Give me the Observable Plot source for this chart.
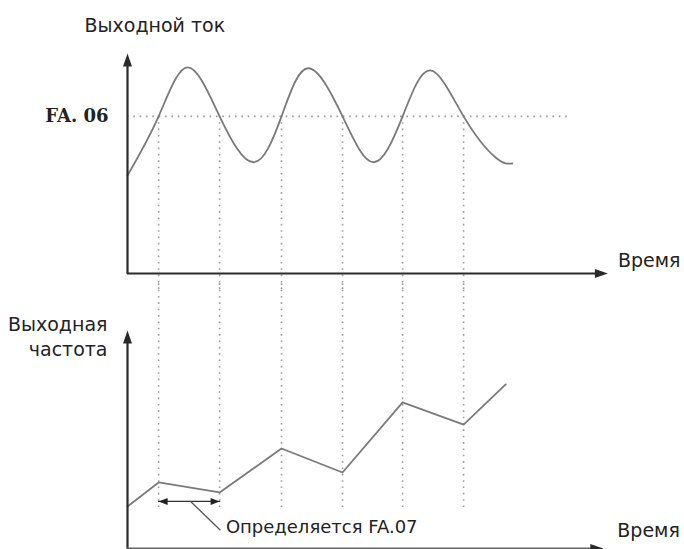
<!DOCTYPE html>
<html><head><meta charset="utf-8">
<script src="https://cdn.jsdelivr.net/npm/d3@7"></script>
<script src="https://cdn.jsdelivr.net/npm/@observablehq/plot@0.6"></script>
<style>
body{margin:0;background:#fff}
#chart{width:684px}
#chart svg{display:block;overflow:visible}
</style>
</head><body><div id="chart"></div>
<script>
// ---- data (time in half-period units, values in arbitrary units) ----
const crossings = [1.02, 3.02, 5.05, 7.05, 9.02, 11.02];   // times where current crosses FA.06
const currentT  = [0, 1.02, 1.97, 3.02, 4.13, 5.05, 5.93, 7.05, 8.07, 9.02, 9.93, 11.02, 12.07, 12.62];
const currentV  = [3.12, 5, 6.56, 5, 3.54, 5, 6.53, 5, 3.54, 5, 6.46, 5, 3.69, 3.50];
const threshold = 5;
const thresholdEnd = 14.5;
const thresholdLabel = "FA. 06";
const freqT = [0, 1.02, 3.02, 5.05, 7.05, 9.02, 11.02, 12.4];
const freqV = [1.35, 2.12, 1.80, 3.21, 2.44, 4.69, 3.98, 5.27];
const spanT = [1.02, 3.02];            // interval defined by FA.07
const spanLevel = 1.51;
const leaderT = [2.07, 3.03];
const leaderV = [1.51, 0.6];
const labelTop = "Выходной ток";
const labelBottom = "Выходная\nчастота";
const labelTime = "Время";
const labelSpan = "Определяется FA.07";
const axisTop = 7;
const timeEndTop = 15.75;
const timeEndBottom = 15.6;

// ---- styles ----
const axisColor = "#2a2a2a";
const curveColor = "#7a7a7a";
const dotColor = "#9a9a9a";
const dash = "1.6,4.75";
const font = "DejaVu Sans";

const arrowHead = {draw(ctx){ ctx.moveTo(0,0); ctx.lineTo(-4.5,13); ctx.lineTo(4.5,13); ctx.closePath(); }};
const smallHead = {draw(ctx){ ctx.moveTo(0,0); ctx.lineTo(-3.5,9); ctx.lineTo(3.5,9); ctx.closePath(); }};

const xScale = {domain: [0, 18]};

const topPanel = Plot.plot({
  width: 684, height: 290,
  marginLeft: 127, marginRight: 8, marginTop: 53, marginBottom: 17,
  x: {...xScale, axis: null},
  y: {domain: [0, 7], axis: null},
  marks: [
    Plot.ruleY([threshold], {x1: 0, x2: thresholdEnd, stroke: dotColor, strokeWidth: 1.6, strokeDasharray: dash}),
    Plot.ruleX(crossings, {y1: threshold, y2: -0.6, stroke: dotColor, strokeWidth: 1.6, strokeDasharray: dash}),
    Plot.line(currentT, {x: d => d, y: (d, i) => currentV[i], curve: "natural", stroke: curveColor, strokeWidth: 1.8}),
    Plot.ruleX([0], {y1: -0.03, y2: axisTop - 0.2, stroke: axisColor, strokeWidth: 2.2}),
    Plot.ruleY([0], {x1: 0, x2: timeEndTop - 0.2, stroke: axisColor, strokeWidth: 2.2}),
    Plot.dot([[0, axisTop]], {x: d => d[0], y: d => d[1], symbol: arrowHead, fill: axisColor, stroke: "none", r: 5}),
    Plot.dot([[timeEndTop, 0]], {x: d => d[0], y: d => d[1], symbol: arrowHead, rotate: 90, fill: axisColor, stroke: "none", r: 5}),
    Plot.text([labelTop], {x: 0, y: axisTop, dx: -43, dy: -28, textAnchor: "start", fontFamily: font, fontSize: 19, fill: "#222"}),
    Plot.text([thresholdLabel], {x: 0, y: threshold, dx: -19, textAnchor: "end", fontFamily: "DejaVu Serif", fontWeight: "bold", fontSize: 18, fill: "#222"}),
    Plot.text([labelTime], {x: timeEndTop, y: 0, dx: 10, dy: -13, textAnchor: "start", fontFamily: font, fontSize: 19, fill: "#222"})
  ]
});

const bottomPanel = Plot.plot({
  width: 684, height: 259,
  marginLeft: 127, marginRight: 8, marginTop: 40, marginBottom: 1,
  x: {...xScale, axis: null},
  y: {domain: [0, 7], axis: null},
  marks: [
    Plot.ruleX(crossings, {y1: 8.5, y2: 1.32, stroke: dotColor, strokeWidth: 1.6, strokeDasharray: dash}),
    Plot.line(freqT, {x: d => d, y: (d, i) => freqV[i], stroke: curveColor, strokeWidth: 1.8}),
    Plot.line(spanT, {x: d => d, y: spanLevel, stroke: "#333", strokeWidth: 1.3}),
    Plot.dot([[spanT[0], spanLevel, -90], [spanT[1], spanLevel, 90]], {x: d => d[0], y: d => d[1], rotate: d => d[2], symbol: smallHead, fill: "#222", stroke: "none", r: 4}),
    Plot.line(leaderT, {x: d => d, y: (d, i) => leaderV[i], stroke: "#555", strokeWidth: 1.3}),
    Plot.text([labelSpan], {x: leaderT[1], y: leaderV[1], dx: 6, dy: -3, textAnchor: "start", fontFamily: font, fontSize: 18, fill: "#222"}),
    Plot.ruleX([0], {y1: -0.1, y2: axisTop - 0.2, stroke: axisColor, strokeWidth: 2.2}),
    Plot.ruleY([0], {x1: 0, x2: timeEndBottom - 0.2, stroke: "#666", strokeWidth: 2}),
    Plot.dot([[0, axisTop]], {x: d => d[0], y: d => d[1], symbol: arrowHead, fill: axisColor, stroke: "none", r: 5}),
    Plot.dot([[timeEndBottom, 0]], {x: d => d[0], y: d => d[1], symbol: arrowHead, rotate: 90, fill: axisColor, stroke: "none", r: 5}),
    Plot.text([labelBottom], {x: 0, y: axisTop, dx: -20, dy: 5, textAnchor: "end", lineHeight: 1.3, fontFamily: font, fontSize: 19, fill: "#222"}),
    Plot.text([labelTime], {x: timeEndBottom, y: 0, dx: 14, dy: -18, textAnchor: "start", fontFamily: font, fontSize: 19, fill: "#222"})
  ]
});

document.getElementById("chart").append(topPanel, bottomPanel);
</script>
</body></html>
